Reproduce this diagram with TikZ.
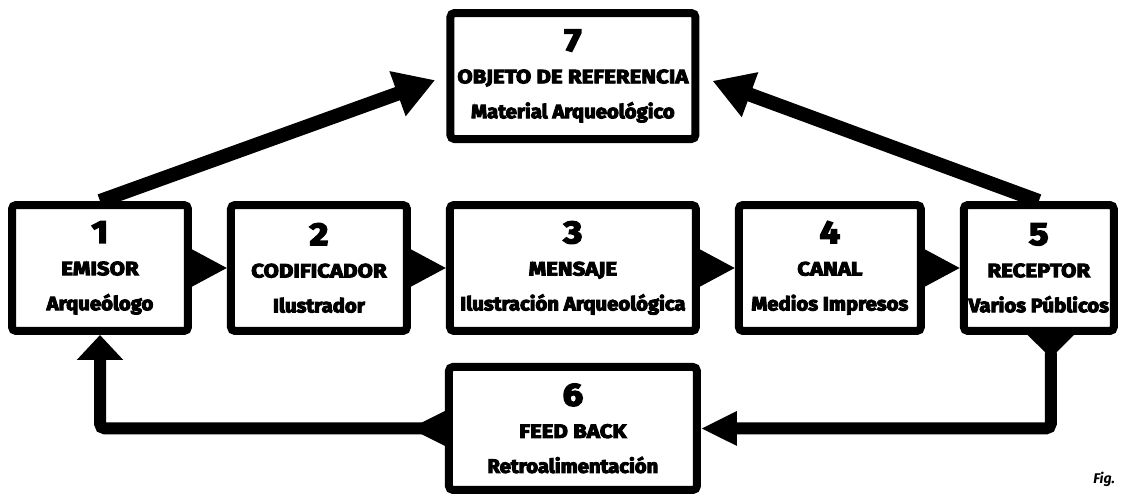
\documentclass[tikz,border=0pt]{standalone}
\usepackage{fontspec}
\newfontfamily\heavyfont{Fira Sans}[UprightFont=* Bold, FakeBold=5, FakeStretch=1.05]
\newfontfamily\capsfont{Fira Sans}[UprightFont=* Bold, FakeBold=5, FakeStretch=1.15]
\newfontfamily\figfont{Fira Sans}[UprightFont=* Bold Italic]
\usepackage{tikz}
\usetikzlibrary{arrows.meta, positioning}
\tikzstyle{stagebox} = [rectangle, line width=0.16cm, rounded corners=0.08cm, minimum height=2.52cm, inner sep=0pt, draw=black, fill=white, align=center, font=\heavyfont\fontsize{11}{19.9}\selectfont]
\tikzstyle{wedge} = [line width=0.1cm, -{Triangle[length=0.7cm, width=0.72cm]}]
\tikzstyle{arrow} = [line width=0.28cm, -{Triangle[length=0.8cm, width=0.9cm]}]
\tikzstyle{feed} = [line width=0.24cm, rounded corners=0.1cm]
\newcommand{\stage}[3]{{\capsfont\fontsize{18}{18}\selectfont #1}\\[-1.5pt]{\capsfont #2}\\#3}

\begin{document}
\begin{tikzpicture}[x=0.02cm, y=-0.02cm, node distance=0.7cm]
	\useasboundingbox (0,0) rectangle (1126,496);
	\node (Emisor) [stagebox, minimum width=3.52cm] at (100,268) {\stage{1}{EMISOR}{Arqueólogo}};
	\node (Codificador) [stagebox, minimum width=3.52cm, right=of Emisor] {\stage{2}{CODIFICADOR}{Ilustrador}};
	\node (Mensaje) [stagebox, minimum width=4.92cm, right=of Codificador] {\stage{3}{MENSAJE}{Ilustración Arqueológica}};
	\node (Canal) [stagebox, minimum width=3.64cm, right=of Mensaje] {\stage{4}{CANAL}{Medios Impresos}};
	\node (Receptor) [stagebox, minimum width=3.0cm, right=of Canal] {\stage{5}{RECEPTOR}{Varios Públicos}};
	\node (Objeto) [stagebox, minimum width=4.9cm, above=1.16cm of Mensaje] {\stage{7}{OBJETO DE REFERENCIA}{Material Arqueológico}};
	\node (FeedBack) [stagebox, minimum width=4.96cm, minimum height=2.46cm, below=0.56cm of Mensaje] {\stage{6}{FEED BACK}{Retroalimentación}};
	\node (Fig) [font=\figfont\fontsize{8}{8}\selectfont, anchor=base west, inner sep=0pt] at (1093,483) {Fig.};
	\draw [wedge] (Emisor) -- (Codificador);
	\draw [wedge] (Codificador) -- (Mensaje);
	\draw [wedge] (Mensaje) -- (Canal);
	\draw [wedge] (Canal) -- (Receptor);
	\draw [arrow, shorten >=0.24cm] (Emisor.north) -- (Objeto.west);
	\draw [arrow, shorten >=0.28cm] (Receptor.north) -- (Objeto.east);
	\draw [feed, {Triangle[reversed, length=0.46cm, width=0.9cm]}-{Triangle[length=0.72cm, width=0.64cm]}] ([xshift=0.24cm]Receptor.south) |- (FeedBack.east);
	\draw [feed, {Triangle[reversed, length=0.72cm, width=0.64cm]}-{Triangle[length=0.5cm, width=0.9cm]}] (FeedBack.west) -| (Emisor.south);
\end{tikzpicture}
\end{document}
